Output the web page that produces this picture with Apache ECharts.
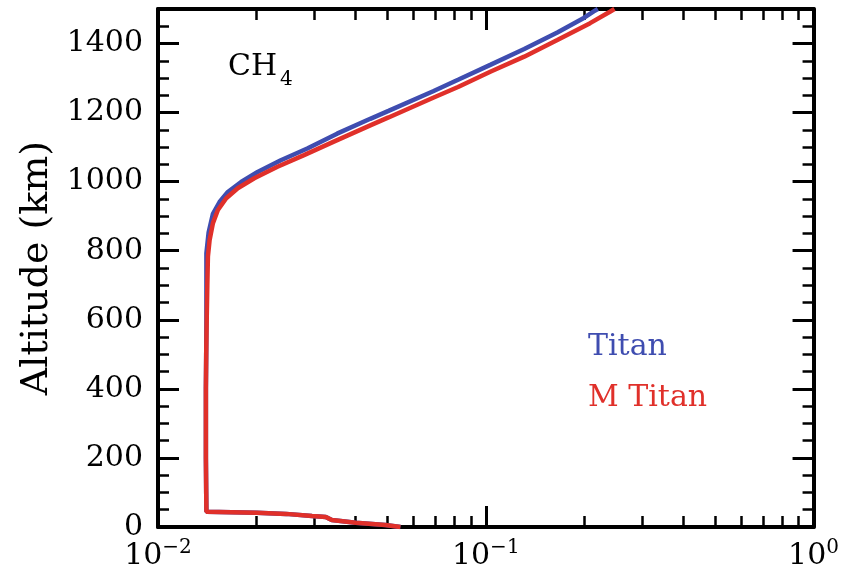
<!DOCTYPE html>
<html>
<head>
<meta charset="utf-8">
<script src="https://cdn.jsdelivr.net/npm/echarts@6/dist/echarts.min.js"></script>
<style>
  html, body { margin: 0; padding: 0; background: #ffffff; }
  #chart { width: 842px; height: 580px; }
</style>
</head>
<body>
<div id="chart"></div>
<script>
// CH4 mole fraction profiles versus altitude (km)
const titanAlt = [0, 6, 12, 20, 29, 32, 38, 41, 44, 100, 200, 300, 400, 500, 600, 700, 793, 853, 907, 941, 970, 999, 1028, 1062, 1096, 1139, 1182, 1205, 1262, 1295, 1339, 1384, 1432, 1474, 1493, 1500];
const titanCH4 = [0.0549, 0.0494, 0.0401, 0.0339, 0.0325, 0.0295, 0.0246, 0.0200, 0.01405, 0.01403, 0.0140, 0.0140, 0.0140, 0.01403, 0.01405, 0.01405, 0.01405, 0.01427, 0.01471, 0.01541, 0.01633, 0.01793, 0.02013, 0.0237, 0.02854, 0.03519, 0.04442, 0.0505, 0.0691, 0.0823, 0.1036, 0.131, 0.1653, 0.1991, 0.2135, 0.2197];

const mTitanAlt = [0, 6, 12, 20, 29, 32, 38, 41, 44, 100, 200, 300, 400, 500, 600, 700, 783, 831, 880, 918, 952, 981, 1010, 1043, 1077, 1116, 1163, 1186, 1243, 1274, 1319, 1362, 1410, 1459, 1492, 1500];
const mTitanCH4 = [0.0549, 0.0494, 0.0401, 0.0339, 0.0325, 0.0295, 0.0246, 0.0200, 0.01405, 0.01403, 0.0140, 0.0140, 0.0140, 0.01403, 0.01408, 0.01414, 0.0142, 0.01437, 0.01471, 0.01523, 0.01615, 0.01751, 0.01967, 0.02315, 0.02789, 0.03439, 0.04442, 0.0505, 0.0691, 0.0823, 0.1036, 0.131, 0.1653, 0.2081, 0.2392, 0.247];

const xMin = 0.01, xMax = 1;
const yMin = 0, yMax = 1500;
const yMajorStep = 200, yMinorStep = 50;
// minor decade ticks (2..9 x 10^n), expressed as log10 for the tick-only axes
const xMinorTicks = [];
[0.01, 0.1].forEach(function (d) {
  for (let k = 2; k <= 9; k++) xMinorTicks.push(Math.log10(k * d));
});

const seriesNames = ['Titan', 'M Titan'];
const seriesColors = ['#3f4db0', '#e0302a'];

const FONT = '"DejaVu Serif", serif';
const INK = '#000000';

function pairs(xs, ys) { return ys.map(function (y, i) { return [xs[i], y]; }); }

function logLabel(v) {
  const e = Math.round(Math.log10(v));
  return '{b|10}{s|' + String(e).replace('-', '\u2212') + '}';
}

function axisLine(show) {
  return { show: show, onZero: false, lineStyle: { color: INK, width: 4 } };
}
function tick(len, width, extra) {
  const t = { show: true, inside: true, length: len, lineStyle: { color: INK, width: width } };
  return Object.assign(t, extra || {});
}

const chart = echarts.init(document.getElementById('chart'), null, { renderer: 'canvas' });

chart.setOption({
  backgroundColor: '#ffffff',
  animation: false,
  grid: { left: 158, right: 24, top: 9, bottom: 53 },
  xAxis: [
    {
      type: 'log', logBase: 10, min: xMin, max: xMax, position: 'bottom',
      axisLine: axisLine(true),
      axisTick: tick(21, 3),
      splitLine: { show: false },
      axisLabel: {
        margin: 11,
        formatter: logLabel,
        rich: {
          b: { fontFamily: FONT, fontSize: 30, lineHeight: 36, color: INK },
          s: { fontFamily: FONT, fontSize: 20, lineHeight: 26, verticalAlign: 'top', color: INK }
        }
      }
    },
    {
      type: 'value', min: -2, max: 0, position: 'bottom',
      axisLine: axisLine(false),
      axisTick: tick(11, 2.5, { customValues: xMinorTicks }),
      axisLabel: { show: false },
      splitLine: { show: false }
    },
    {
      type: 'log', logBase: 10, min: xMin, max: xMax, position: 'top',
      axisLine: axisLine(true),
      axisTick: tick(21, 3),
      axisLabel: { show: false },
      splitLine: { show: false }
    },
    {
      type: 'value', min: -2, max: 0, position: 'top',
      axisLine: axisLine(false),
      axisTick: tick(11, 2.5, { customValues: xMinorTicks }),
      axisLabel: { show: false },
      splitLine: { show: false }
    }
  ],
  yAxis: [
    {
      type: 'value', min: yMin, max: yMax, interval: yMajorStep, position: 'left',
      name: 'Altitude (km)', nameLocation: 'middle', nameGap: 100,
      nameTextStyle: { fontFamily: FONT, fontSize: 38, color: INK },
      axisLine: axisLine(true),
      axisTick: tick(21, 3),
      splitLine: { show: false },
      axisLabel: {
        margin: 15, showMaxLabel: false, fontFamily: FONT, fontSize: 30, color: INK,
        formatter: function (v) { return String(v); }
      }
    },
    {
      type: 'value', min: yMin, max: yMax, interval: yMinorStep, position: 'left',
      axisLine: axisLine(false),
      axisTick: tick(11, 2.5),
      axisLabel: { show: false },
      splitLine: { show: false }
    },
    {
      type: 'value', min: yMin, max: yMax, interval: yMajorStep, position: 'right',
      axisLine: axisLine(true),
      axisTick: tick(21, 3),
      axisLabel: { show: false },
      splitLine: { show: false }
    },
    {
      type: 'value', min: yMin, max: yMax, interval: yMinorStep, position: 'right',
      axisLine: axisLine(false),
      axisTick: tick(11, 2.5),
      axisLabel: { show: false },
      splitLine: { show: false }
    }
  ],
  series: [
    {
      name: seriesNames[0], type: 'line', xAxisIndex: 0, yAxisIndex: 0,
      data: pairs(titanCH4, titanAlt), showSymbol: false, symbol: 'none', smooth: false,
      lineStyle: { color: seriesColors[0], width: 4.5 }, z: 3
    },
    {
      name: seriesNames[1], type: 'line', xAxisIndex: 0, yAxisIndex: 0,
      data: pairs(mTitanCH4, mTitanAlt), showSymbol: false, symbol: 'none', smooth: false,
      lineStyle: { color: seriesColors[1], width: 4.5 }, z: 4
    }
  ],
  graphic: [
    { type: 'text', left: 228, top: 52, style: { text: 'CH', font: '30px ' + FONT, fill: INK } },
    { type: 'text', left: 280, top: 70, style: { text: '4', font: '20px ' + FONT, fill: INK } },
    { type: 'text', left: 588, top: 332, style: { text: seriesNames[0], font: '30px ' + FONT, fill: seriesColors[0] } },
    { type: 'text', left: 588, top: 383, style: { text: seriesNames[1], font: '30px ' + FONT, fill: seriesColors[1] } }
  ]
});
</script>
</body>
</html>
